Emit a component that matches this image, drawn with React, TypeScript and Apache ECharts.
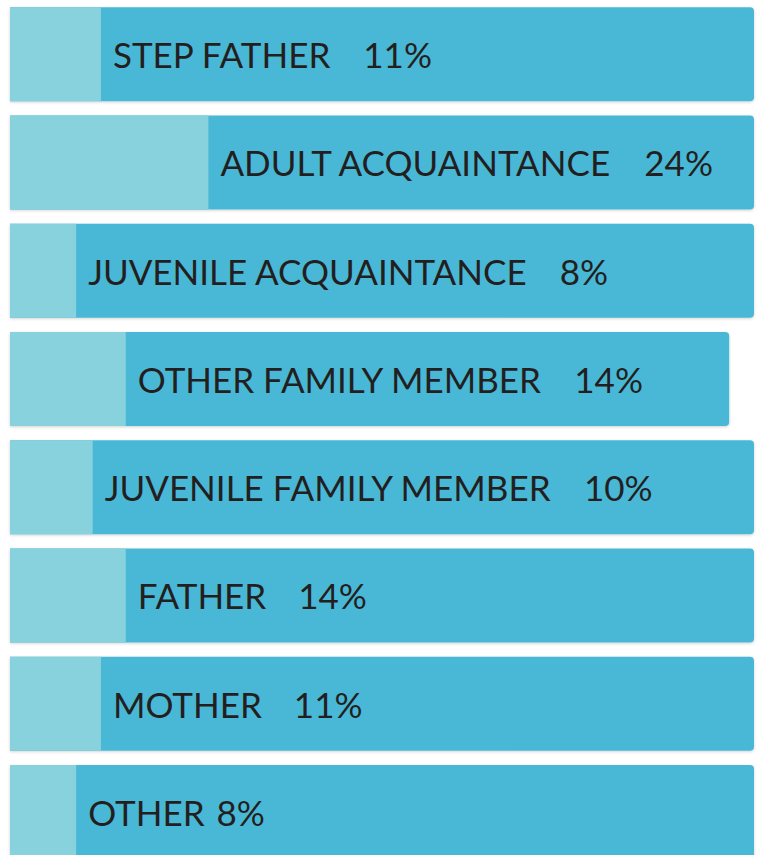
import React, { useEffect, useRef } from "react";
import * as echarts from "echarts";

const categories = [
  "STEP FATHER",
  "ADULT ACQUAINTANCE",
  "JUVENILE ACQUAINTANCE",
  "OTHER FAMILY MEMBER",
  "JUVENILE FAMILY MEMBER",
  "FATHER",
  "MOTHER",
  "OTHER",
];
const percents = [11, 24, 8, 14, 10, 14, 11, 8];
const barLengths = [90, 90, 90, 87, 90, 90, 90, 90];

export default function App() {
  const ref = useRef<HTMLDivElement>(null);
  useEffect(() => {
    if (!ref.current) return;
    const chart = echarts.init(ref.current, null, { renderer: "svg" });
    chart.setOption({
      animation: false,
      backgroundColor: "#ffffff",
      grid: { left: 10, right: 4, top: 0, height: 866 },
      xAxis: { type: "value", min: 0, max: 90, show: false },
      yAxis: {
        type: "category",
        data: categories,
        inverse: true,
        show: false,
      },
      series: [
        {
          type: "bar",
          data: barLengths,
          barWidth: 94,
          barGap: "-100%",
          silent: true,
          itemStyle: {
            color: "#4ab8d6",
            borderRadius: [0, 4, 4, 0],
            shadowColor: "rgba(0,0,0,0.18)",
            shadowBlur: 3,
            shadowOffsetY: 1,
          },
        },
        {
          type: "bar",
          data: percents,
          barWidth: 94,
          barGap: "-100%",
          itemStyle: { color: "#88d2dd" },
          label: {
            show: true,
            position: "right",
            distance: 12,
            formatter: (p: any) =>
              p.name === "OTHER"
                ? `{a|${p.name}}{c|${percents[p.dataIndex]}%}`
                : `{a|${p.name}}{b|${percents[p.dataIndex]}%}`,
            rich: {
              a: {
                fontFamily: "Lato",
                fontSize: 35,
                color: "#231f20",
              },
              b: {
                fontFamily: "Lato",
                fontSize: 35,
                color: "#231f20",
                padding: [0, 0, 0, 32],
              },
              c: {
                fontFamily: "Lato",
                fontSize: 35,
                color: "#231f20",
                padding: [0, 0, 0, 12],
              },
            },
          },
        },
      ],
    });
    return () => chart.dispose();
  }, []);
  return (
    <div
      style={{
        position: "fixed",
        left: 0,
        top: 0,
        width: 758,
        height: 855,
        overflow: "hidden",
        background: "#ffffff",
      }}
    >
      <div ref={ref} style={{ width: 758, height: 870 }} />
    </div>
  );
}
